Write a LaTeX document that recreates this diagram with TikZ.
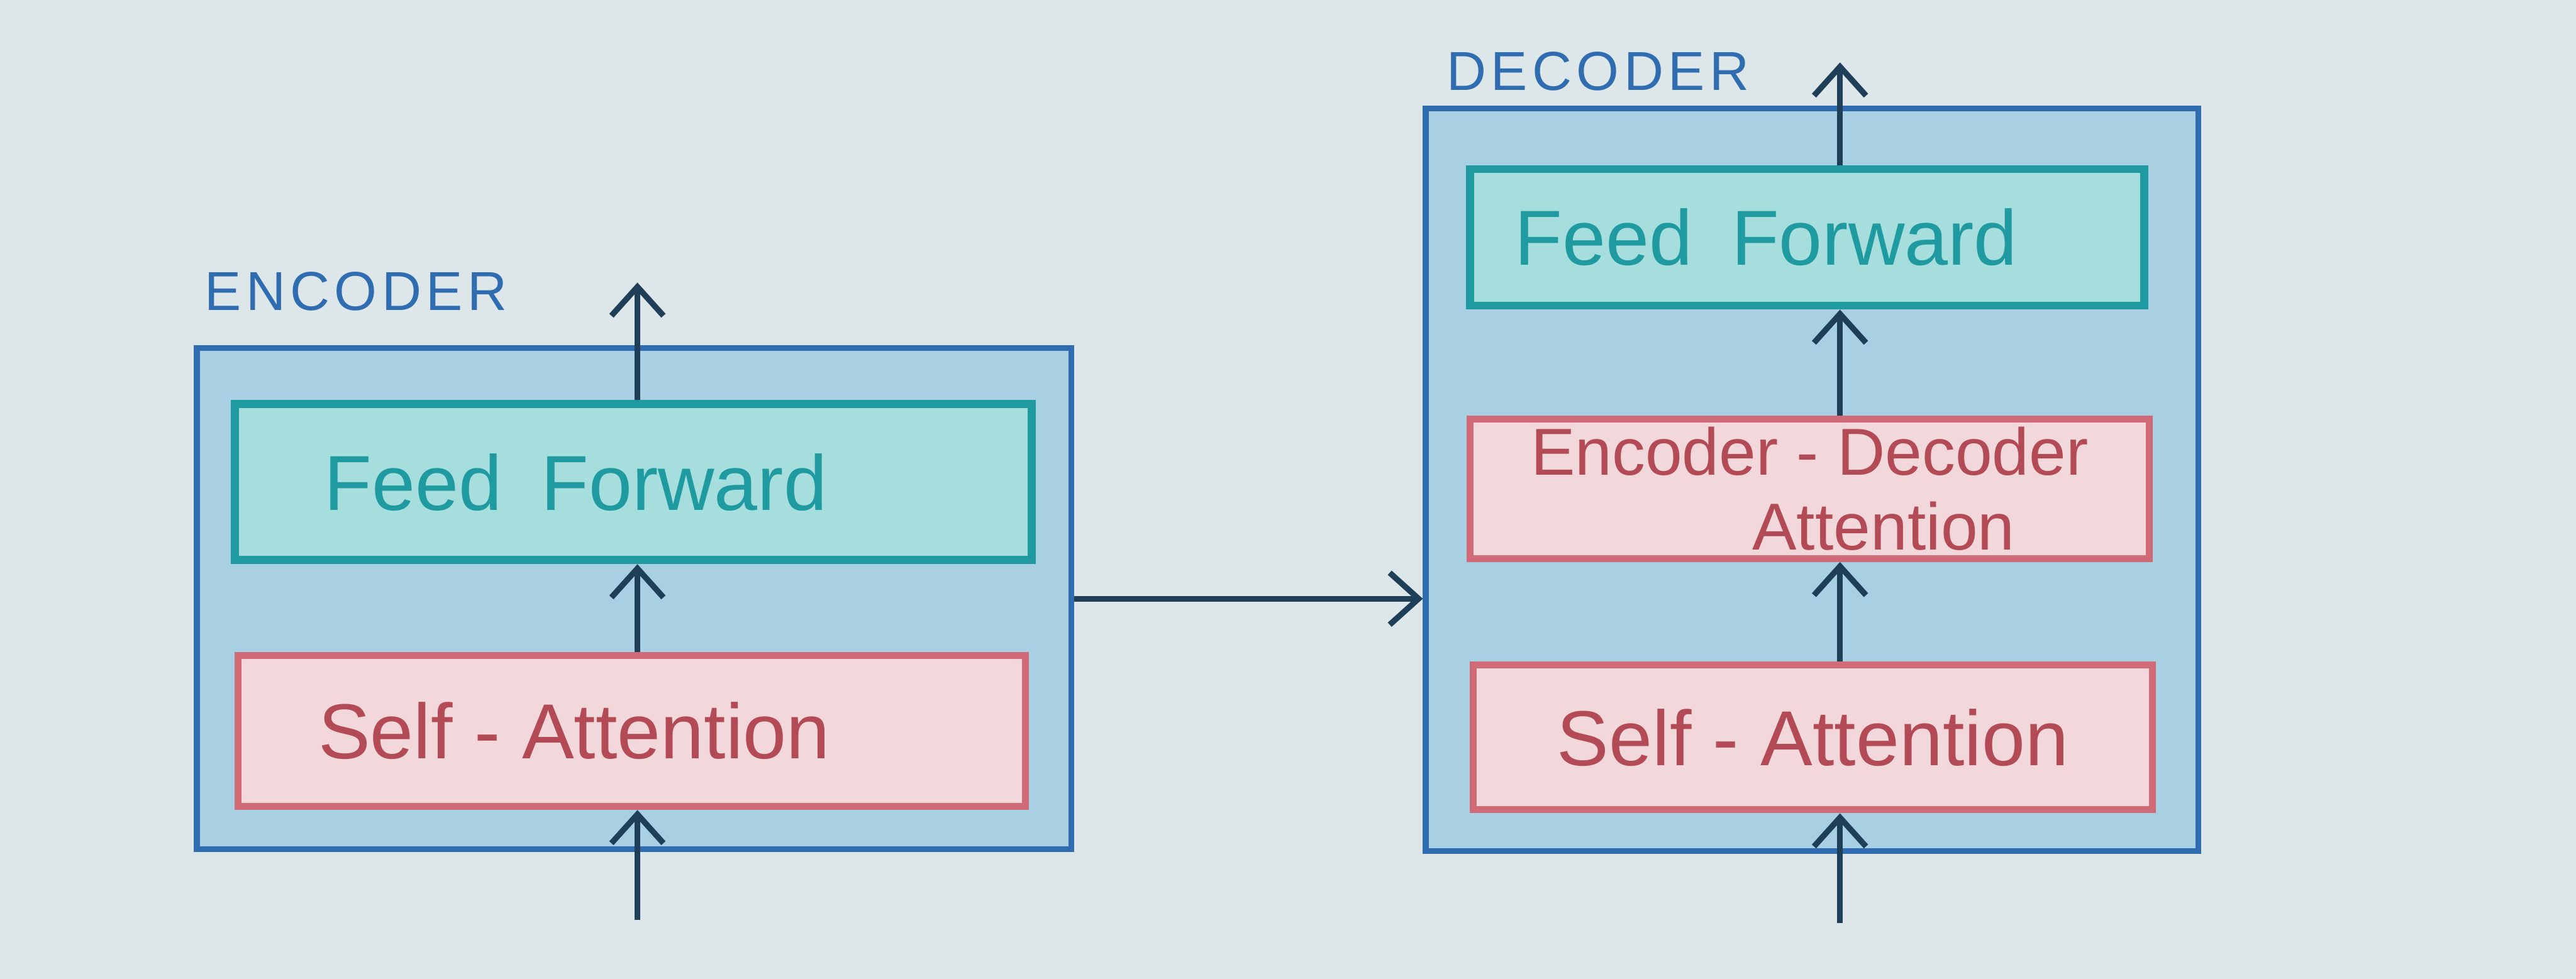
\documentclass[tikz,border=0pt]{standalone}
\usepackage{fontspec}
\setmainfont{Liberation Sans}
\usepackage{xcolor}
\definecolor{paper}{HTML}{DDE6E9}
\definecolor{boxblue}{HTML}{A9D0E2}
\definecolor{edgeblue}{HTML}{2F6CB0}
\definecolor{ffteal}{HTML}{A6DEDD}
\definecolor{ffedge}{HTML}{1E9AA0}
\definecolor{attpink}{HTML}{F2D8DA}
\definecolor{attedge}{HTML}{CF6A76}
\definecolor{atttext}{HTML}{B34B57}
\definecolor{ink}{HTML}{1F3E58}
\usetikzlibrary{arrows.meta}

\begin{document}
\begin{tikzpicture}[x=0.01cm, y=-0.01cm,
  every node/.style={font=\fontsize{13.5}{16}\selectfont},
  coder/.style={draw=edgeblue, line width=1pt, fill=boxblue},
  ffbox/.style={draw=ffedge, line width=1.4pt, fill=ffteal, text=ffedge},
  attbox/.style={draw=attedge, line width=1.2pt, fill=attpink, text=atttext},
  title/.style={text=edgeblue, font=\fontsize{9.5}{12}\selectfont, inner sep=0pt},
  flow/.style={-{Straight Barb[length=5pt, width=9pt]}, ink, line width=1pt}]
  % page and background
  \fill[paper] (0,0) rectangle (1568,596);
  \useasboundingbox (0,0) rectangle (1568,596);

  % Encoder box
  \node[coder, minimum width=5.32cm, minimum height=3.05cm] (enc) at (386,364.5) {};
  \node[title, anchor=south west] (enclabel) at (124,190) {E\kern0.8pt N\kern0.8pt C\kern0.8pt O\kern0.8pt D\kern0.8pt E\kern0.8pt R};
  % Layers inside encoder
  \node[ffbox, minimum width=4.85cm, minimum height=0.95cm] (encff) at (385.5,293.5) {Feed\enspace Forward\hspace*{0.7cm}};
  \node[attbox, minimum width=4.79cm, minimum height=0.92cm] (encsa) at (384.5,445) {Self - Attention\hspace*{0.7cm}};

  % Decoder box
  \node[coder, minimum width=4.70cm, minimum height=4.52cm] (dec) at (1103,292) {};
  \node[title, anchor=south west] (declabel) at (880,56) {D\kern0.8pt E\kern0.8pt C\kern0.8pt O\kern0.8pt D\kern0.8pt E\kern0.8pt R};
  % Layers inside decoder
  \node[ffbox, minimum width=4.10cm, minimum height=0.83cm] (decff) at (1100,144.5) {Feed\enspace Forward\hspace*{0.5cm}};
  \node[attbox, minimum width=4.13cm, minimum height=0.85cm, align=center, inner sep=1pt,
    font=\fontsize{11.5}{13}\selectfont] (deceda) at (1101.5,297.5) {Encoder - Decoder\\\hspace*{0.9cm}Attention};
  \node[attbox, minimum width=4.13cm, minimum height=0.88cm] (decsa) at (1103.5,449) {Self - Attention};

  % Free ends of the flow
  \coordinate (encin) at (388,560);
  \coordinate (encout) at (388,172);
  \coordinate (decin) at (1120,562);
  \coordinate (decout) at (1120,38);

  % Encoder flow
  \draw[flow] (encin) -- (encin |- encsa.south);
  \draw[flow] (encsa.north -| encin) -- (encff.south -| encin);
  \draw[flow] (encff.north -| encin) -- (encout);

  % Decoder flow
  \draw[flow] (decin) -- (decin |- decsa.south);
  \draw[flow] (decsa.north -| decin) -- (deceda.south -| decin);
  \draw[flow] (deceda.north -| decin) -- (decff.south -| decin);
  \draw[flow] (decff.north -| decin) -- (decout);

  % Encoder output into decoder
  \draw[flow] (enc.east) -- (enc.east -| dec.west);
\end{tikzpicture}
\end{document}
